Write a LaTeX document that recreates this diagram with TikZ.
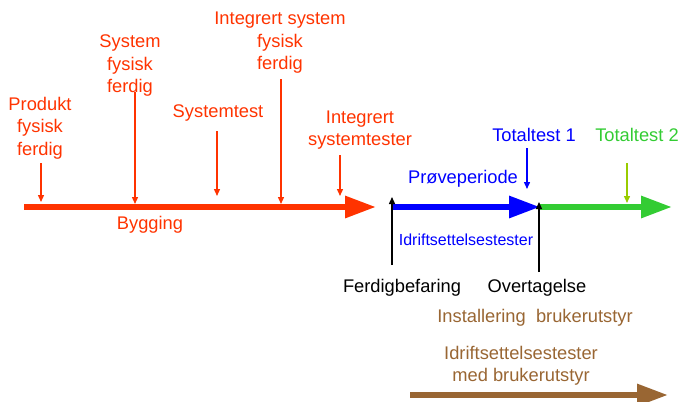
\documentclass[tikz,border=0pt]{standalone}
\usepackage{fontspec}
\setmainfont{Liberation Sans}
\usetikzlibrary{arrows.meta, positioning}

\definecolor{bygg}{HTML}{FF3300}
\definecolor{prove}{HTML}{0000FF}
\definecolor{total}{HTML}{33CC33}
\definecolor{gulgronn}{HTML}{99CC00}
\definecolor{bruker}{HTML}{996633}

\begin{document}
\begin{tikzpicture}[x=1pt, y=-1pt,
	lbl/.style={align=center, inner sep=0pt, font=\fontsize{18.3}{22.5}\selectfont},
	smalllbl/.style={align=center, inner sep=0pt, font=\fontsize{16}{19}\selectfont},
	fase/.style={line width=6pt, -{Triangle[length=31pt,width=21pt]}},
	pil/.style={line width=1.4pt, -{Triangle[length=7pt,width=6pt]}}]
	
	% parameters
	\def\ty{207}     % timeline height
	\def\by{395}     % bottom arrow height
	
	\useasboundingbox (0,0) rectangle (681,402);
	
	% timeline points
	\coordinate (start)  at (24,\ty);
	\coordinate (byggend) at (376,\ty);
	\coordinate (befar)  at (391,\ty);
	\coordinate (overt)  at (540,\ty);
	\coordinate (slutt)  at (672,\ty);
	\coordinate (bstart) at (410,\by);
	\coordinate (bslutt) at (668,\by);
	
	% phases
	\draw[fase, bygg] (start) -- (byggend);
	\draw[fase, prove] (befar) -- (overt);
	\draw[fase, total] (overt) -- (slutt);
	\draw[fase, bruker] (bstart) -- (bslutt);
	
	% red milestones
	\node[lbl, bygg] (produkt) at (40,128) {Produkt\\fysisk\\ferdig};
	\node[lbl, bygg] (system) at (130,66) {System\\fysisk\\ferdig};
	\node[lbl, bygg] (systest) at (218,113) {Systemtest};
	\node[lbl, bygg] (integ) at (280,43) {Integrert system\\fysisk\\ferdig};
	\node[lbl, bygg] (integtest) at (360,130) {Integrert\\systemtester};
	\node[lbl, bygg] (bygging) at (150,225) {Bygging};
	
	\coordinate (p1a) at (41,163);  \coordinate (p1b) at (41,202);
	\coordinate (p2a) at (135,92);  \coordinate (p2b) at (135,204);
	\coordinate (p3a) at (217,131); \coordinate (p3b) at (217,196);
	\coordinate (p4a) at (281,79);  \coordinate (p4b) at (281,204);
	\coordinate (p5a) at (340,155); \coordinate (p5b) at (340,196);
	\foreach \p in {p1,p2,p3,p4,p5}
		\draw[pil, bygg] (\p a) -- (\p b);
	
	% tests
	\node[lbl, prove] (total1) at (534,135) {Totaltest 1};
	\node[lbl, total] (total2) at (637,135) {Totaltest 2};
	\node[lbl, prove] (proveper) at (463,179) {Prøveperiode};
	\node[smalllbl, prove] (idrift) at (466,240) {Idriftsettelsestester};
	
	\coordinate (t1a) at (527,148); \coordinate (t1b) at (527,189);
	\coordinate (t2a) at (627,163); \coordinate (t2b) at (627,203);
	\draw[pil, prove] (t1a) -- (t1b);
	\draw[pil, gulgronn] (t2a) -- (t2b);
	
	% handover
	\node[lbl] (ferdigbef) at (402,288) {Ferdigbefaring};
	\node[lbl] (overtag) at (537,288) {Overtagelse};
	
	\coordinate (f1a) at (392,265); \coordinate (f1b) at (392,197);
	\coordinate (f2a) at (539,272); \coordinate (f2b) at (539,202);
	\draw[pil, black] (f1a) -- (f1b);
	\draw[pil, black] (f2a) -- (f2b);
	
	% user equipment
	\node[lbl, bruker] (install) at (535,318) {Installering\ \ brukerutstyr};
	\node[lbl, bruker] (idriftbr) at (521,366) {Idriftsettelsestester\\med brukerutstyr};
	
\end{tikzpicture}
\end{document}
